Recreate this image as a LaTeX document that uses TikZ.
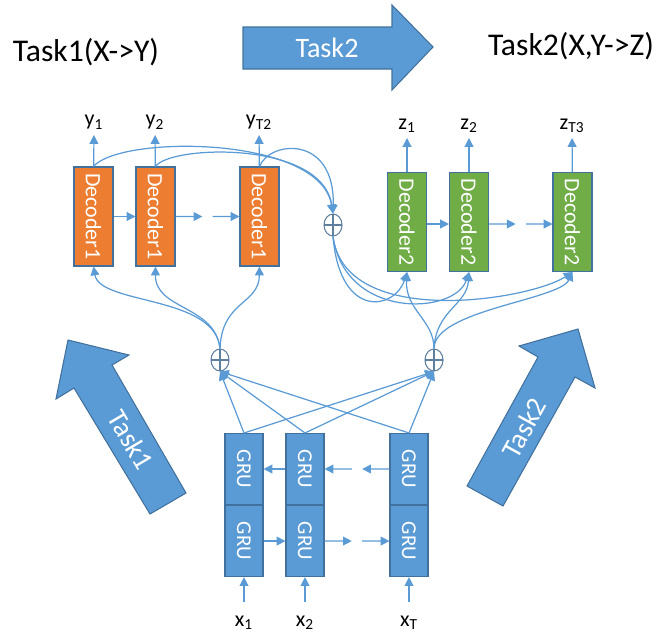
\documentclass[tikz,border=0pt]{standalone}
\usepackage{fontspec}
\setmainfont{Carlito}
\usepackage{graphicx}
\usetikzlibrary{arrows.meta,shapes.geometric,positioning,calc}
\definecolor{decorange}{HTML}{ED7D31}
\definecolor{decgreen}{HTML}{70AD47}
\definecolor{grublue}{HTML}{5B9BD5}
\definecolor{edgeblue}{HTML}{41719C}
\definecolor{sumgray}{HTML}{5F7F9F}
\begin{document}
\begin{tikzpicture}[x=0.02cm, y=-0.02cm,
    flow/.style={draw=grublue, line width=0.7pt, -{Triangle[length=5pt,width=5pt]}},
    dec/.style={draw=edgeblue, line width=0.6pt, fill=#1, text=white, minimum width=0.78cm, minimum height=1.98cm, inner sep=0pt, font=\fontsize{12.5}{14}\selectfont},
    gru/.style={draw=edgeblue, line width=0.6pt, fill=grublue, text=white, minimum width=0.76cm, minimum height=1.42cm, inner sep=0pt, font=\fontsize{12}{14}\selectfont},
    sumnode/.style={ellipse, draw=sumgray, line width=0.6pt, minimum width=0.36cm, minimum height=0.44cm, inner sep=0pt,
        path picture={\draw[sumgray, line width=0.6pt] (path picture bounding box.north) -- (path picture bounding box.south)
            (path picture bounding box.west) -- (path picture bounding box.east);}},
    lab/.style={inner sep=3pt, font=\fontsize{12.5}{14}\selectfont},
    bigarrow/.style={draw=edgeblue, line width=0.6pt, fill=grublue},
    headtext/.style={font=\fontsize{18}{21}\selectfont}]
  \useasboundingbox (0,0) rectangle (671,636);

  % titles and task arrows
  \node[headtext] (t1) at (86,52) {Task1(X->Y)};
  \node[headtext] (t2) at (571,46) {Task2(X,Y->Z)};
  \draw[bigarrow] (243,27) -- (392,27) -- (392,5) -- (433,47) -- (392,90) -- (392,69) -- (243,69) -- cycle;
  \node[text=white, font=\fontsize{16}{18}\selectfont] (tk2) at (327,48) {Task2};
  \draw[bigarrow] (68,340) -- (129,355) -- (112,365) -- (186,493) -- (150,514) -- (74,388) -- (56,399) -- cycle;
  \node[text=white, font=\fontsize{16}{18}\selectfont, rotate=-59.4] (tk1a) at (131,440) {Task1};
  \draw[bigarrow] (578,329) -- (595,388) -- (575,377) -- (503,506) -- (467,486) -- (538,357) -- (519,346) -- cycle;
  \node[text=white, font=\fontsize{16}{18}\selectfont, rotate=61.2] (tk2a) at (524,428) {Task2};

  % decoders
  \node[dec=decorange] (d11) at (93.5,216.5) {\rotatebox{-90}{Decoder1}};
  \node[dec=decorange] (d12) at (155.5,216.5) {\rotatebox{-90}{Decoder1}};
  \node[dec=decorange] (d13) at (259.5,216.5) {\rotatebox{-90}{Decoder1}};
  \node[dec=decgreen] (d21) at (407,222) {\rotatebox{-90}{Decoder2}};
  \node[dec=decgreen] (d22) at (469,222) {\rotatebox{-90}{Decoder2}};
  \node[dec=decgreen] (d23) at (572.5,222) {\rotatebox{-90}{Decoder2}};

  % encoder
  \node[gru] (gu1) at (244,469) {\rotatebox{-90}{GRU}};
  \node[gru] (gu2) at (305,469) {\rotatebox{-90}{GRU}};
  \node[gru] (gu3) at (409,469) {\rotatebox{-90}{GRU}};
  \node[gru, below=0pt of gu1] (gl1) {\rotatebox{-90}{GRU}};
  \node[gru, below=0pt of gu2] (gl2) {\rotatebox{-90}{GRU}};
  \node[gru, below=0pt of gu3] (gl3) {\rotatebox{-90}{GRU}};

  % sums
  \node[sumnode] (sA) at (333,225) {};
  \node[sumnode] (sL) at (220,360) {};
  \node[sumnode] (sR) at (434,360) {};

  % outputs and inputs
  \node[lab, anchor=south] (ya) at (94,135) {y\textsubscript{1}};
  \node[lab, anchor=south] (yb) at (155,135) {y\textsubscript{2}};
  \node[lab, anchor=south] (yc) at (259,135) {y\textsubscript{T2}};
  \node[lab, anchor=south] (za) at (407,138) {z\textsubscript{1}};
  \node[lab, anchor=south] (zb) at (469,138) {z\textsubscript{2}};
  \node[lab, anchor=south] (zc) at (572,138) {z\textsubscript{T3}};
  \node[lab] (xa) at (244,623) {x\textsubscript{1}};
  \node[lab] (xb) at (305,623) {x\textsubscript{2}};
  \node[lab] (xc) at (409,623) {x\textsubscript{T}};
  \foreach \d/\l in {d11/ya, d12/yb, d13/yc, d21/za, d22/zb, d23/zc}
    \draw[flow] (\d) -- (\l);
  \foreach \l/\g in {xa/gl1, xb/gl2, xc/gl3}
    \draw[flow, shorten <=5pt] (\l) -- (\g);

  % recurrent links
  \draw[flow] (d11) -- (d12);
  \draw[flow] (d12.east) -- ($(d12.east)!0.42!(d13.west)$);
  \draw[flow] ($(d12.east)!0.58!(d13.west)$) -- (d13.west);
  \draw[flow] (d21.east |- 0,224) -- (d22.west |- 0,224);
  \draw[flow] (d22.east |- 0,224) -- ($(d22.east |- 0,224)!0.42!(d23.west |- 0,224)$);
  \draw[flow] ($(d22.east |- 0,224)!0.58!(d23.west |- 0,224)$) -- (d23.west |- 0,224);
  \draw[flow] (gu2) -- (gu1);
  \draw[flow] (gu3.west) -- ($(gu3.west)!0.42!(gu2.east)$);
  \draw[flow] ($(gu3.west)!0.58!(gu2.east)$) -- (gu2.east);
  \draw[flow] (gl1) -- (gl2);
  \draw[flow] (gl2.east) -- ($(gl2.east)!0.42!(gl3.west)$);
  \draw[flow] ($(gl2.east)!0.58!(gl3.west)$) -- (gl3.west);

  % encoder to sums
  \foreach \g in {gu1, gu2, gu3} {
    \draw[flow] (\g.north) -- (sL.south);
    \draw[flow] (\g.north) -- (sR.south);
  }

  % sums to decoders
  \draw[flow] (sL.north) .. controls (215,295) and (100,305) .. (d11.south);
  \draw[flow] (sL.north) .. controls (215,305) and (155,310) .. (d12.south);
  \draw[flow] (sL.north) .. controls (222,300) and (259,305) .. (d13.south);
  \draw[flow] (sR.north) .. controls (434,320) and (405,310) .. (d21.south);
  \draw[flow] (sR.north) .. controls (436,310) and (467,305) .. (d22.south);
  \draw[flow] (sR.north) .. controls (434,310) and (560,300) .. (d23.south);
  \draw[flow] (sA.south) .. controls (340,320) and (395,310) .. (d21.south);
  \draw[flow] (sA.south) .. controls (345,320) and (455,315) .. (d22.south);
  \draw[flow] (sA.south) .. controls (345,330) and (530,300) .. (d23.south);

  % decoder1 outputs to top sum
  \draw[flow] (d11.north) .. controls (120,135) and (320,135) .. (sA.north);
  \draw[flow] (d12.north) .. controls (170,145) and (322,140) .. (sA.north);
  \draw[flow] (d13.north) .. controls (270,140) and (335,135) .. (sA.north);
\end{tikzpicture}
\end{document}
